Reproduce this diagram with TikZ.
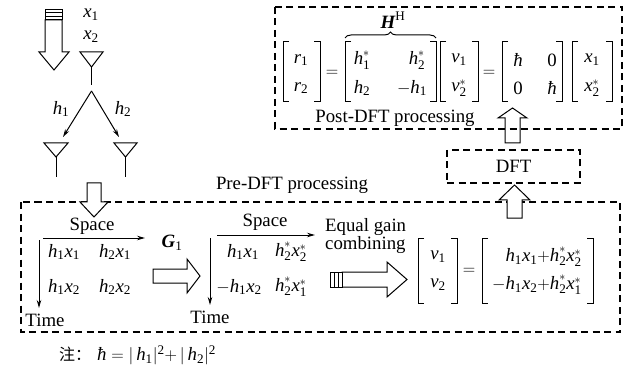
\documentclass[tikz,border=0pt]{standalone}
\usepackage{amsmath}
\usepackage{fontspec}
\setmainfont{Liberation Serif}
\newfontfamily\cjk{Noto Sans CJK SC}
\usetikzlibrary{arrows.meta,decorations.pathreplacing}
\newcommand\V[1]{\text{\itshape #1}}
\newcommand\D[1]{\text{\upshape #1}}
\newcommand\Mh{\V{h}}
\newcommand\Mx{\V{x}}
\newcommand\Mv{\V{v}}
\newcommand\Mr{\V{r}}
\newcommand\Mhb{\V{ħ}}
\newcommand\brkpair[4]{%
  \draw[brk] ({#1+6},#3) -- (#1,#3) -- (#1,#4) -- ({#1+6},#4);
  \draw[brk] ({#2-6},#3) -- (#2,#3) -- (#2,#4) -- ({#2-6},#4);}
\tikzset{
  dbox/.style={draw, dash pattern=on 7pt off 4.5pt, line width=1.1pt},
  thinline/.style={line width=1pt},
  ax/.style={line width=1pt, -{Stealth[length=8pt,width=4.5pt]}},
  hollow/.style={draw, line width=1pt, fill=white},
  brk/.style={line width=1pt},
}
\begin{document}
\begin{tikzpicture}[x=1pt,y=-1pt, font=\fontsize{18.8}{22}\selectfont, every node/.style={inner sep=0pt}]
\useasboundingbox (0,0) rectangle (628,371);

% ---------- top-left: source and antennas ----------
\draw[hollow] (45,20) -- (45,52) -- (39,52) -- (54,70) -- (69,52) -- (62,52) -- (62,20) -- cycle;
\draw[hollow] (45,9.5) rectangle (62,20);
\draw[thinline] (45,13) -- (62,13) (45,16.5) -- (62,16.5);
\node (x1) at (91,15) {$\Mx_{\D1}$};
\node (x2) at (91,37) {$\Mx_{\D2}$};
\draw[thinline] (80,52) -- (103,52) -- (91.5,67) -- cycle;
\draw[thinline] (91.5,67) -- (91.5,85);
\coordinate (split) at (91.5,91);
\coordinate (rxl) at (63,137);
\coordinate (rxr) at (119,137);
\draw[ax] (split) -- (rxl);
\draw[ax] (split) -- (rxr);
\node (h1) at (61,109) {$\Mh_{\D1}$};
\node (h2) at (123,109) {$\Mh_{\D2}$};
\draw[thinline] (44,143) -- (68,143) -- (56,157) -- cycle;
\draw[thinline] (56,157) -- (56,177);
\draw[thinline] (114,143) -- (137,143) -- (125.5,157) -- cycle;
\draw[thinline] (125.5,157) -- (125.5,177);

% ---------- Pre-DFT box ----------
\node (pretitle) at (292,185) {Pre-DFT processing};
\draw[dbox] (21,202) rectangle (620,332);
\draw[hollow] (87,183) -- (87,202) -- (80,202) -- (94,217) -- (108,202) -- (101,202) -- (101,183) -- cycle;

% first space-time matrix
\coordinate (s1a) at (43,238); \coordinate (s1b) at (145,238);
\coordinate (t1a) at (39,240); \coordinate (t1b) at (39,308);
\draw[ax] (s1a) -- (s1b);
\draw[ax] (t1a) -- (t1b);
\node (space1) at (92,226) {Space};
\node (time1) at (45,320) {Time};
\node (a11) at (64,252) {$\Mh_{\D1}\Mx_{\D1}$};
\node (a12) at (115,252) {$\Mh_{\D2}\Mx_{\D1}$};
\node (a21) at (64,287) {$\Mh_{\D1}\Mx_{\D2}$};
\node (a22) at (115,287) {$\Mh_{\D2}\Mx_{\D2}$};

% G1 arrow
\node (g1) at (172,243) {$\text{\bfseries\itshape G}_{\D1}$};
\draw[hollow] (153,269) -- (187,269) -- (187,259) -- (200,276) -- (187,293) -- (187,283) -- (153,283) -- cycle;

% second space-time matrix
\coordinate (s2a) at (217,235); \coordinate (s2b) at (315,235);
\coordinate (t2a) at (210,238); \coordinate (t2b) at (210,305);
\draw[ax] (s2a) -- (s2b);
\draw[ax] (t2a) -- (t2b);
\node (space2) at (265,222) {Space};
\node (time2) at (210,317) {Time};
\node (b11) at (243,252) {$\Mh_{\D1}\Mx_{\D1}$};
\node (b12) at (291,252) {$\Mh_{\D2}^*\Mx_{\D2}^*$};
\node (b21) at (239,287) {$-\Mh_{\D1}\Mx_{\D2}$};
\node (b22) at (291,287) {$\Mh_{\D2}^*\Mx_{\D1}^*$};

% equal gain combining
\node[align=left, anchor=west, font=\fontsize{18.8}{18}\selectfont] (egc) at (325,236) {Equal gain\\combining};
\draw[hollow] (342,272) -- (387,272) -- (387,262) -- (407,279.5) -- (387,297) -- (387,287) -- (342,287) -- cycle;
\draw[hollow] (330,272) rectangle (342,287);
\draw[thinline] (334,272) -- (334,287) (338,272) -- (338,287);

% v result
\brkpair{418}{457}{238}{303}
\node (v1) at (438,257) {$\Mv_{\D1}$};
\node (v2) at (438,285) {$\Mv_{\D2}$};
\node (eq3) at (469,271) {$=$};
\brkpair{482}{593}{238}{303}
\node[anchor=east] (c1) at (582,257) {$\Mh_{\D1}\Mx_{\D1}{+}\Mh_{\D2}^*\Mx_{\D2}^*$};
\node[anchor=east] (c2) at (582,285) {$-\Mh_{\D1}\Mx_{\D2}{+}\Mh_{\D2}^*\Mx_{\D1}^*$};

% ---------- DFT ----------
\draw[hollow] (507,218) -- (507,200) -- (499,200) -- (514.5,185) -- (530,200) -- (522,200) -- (522,218) -- cycle;
\node[dbox, minimum width=133pt, minimum height=33pt] (dft) at (513.5,166.5) {DFT};
\draw[hollow] (505,143) -- (505,118) -- (498,118) -- (512.5,108) -- (527,118) -- (520,118) -- (520,143) -- cycle;

% ---------- Post-DFT box ----------
\draw[dbox] (275,7) rectangle (622,129);
\node (posttitle) at (395,118) {Post-DFT processing};
\brkpair{283}{320}{42}{102}
\node (r1) at (301,60) {$\Mr_{\D1}$};
\node (r2) at (301,88) {$\Mr_{\D2}$};
\node (eq1) at (332,73) {$=$};
\brkpair{345}{436}{42}{102}
\node (hh11) at (362,60) {$\Mh_{\D1}^*$};
\node (hh12) at (417,60) {$\Mh_{\D2}^*$};
\node (hh21) at (362,88) {$\Mh_{\D2}$};
\node (hh22) at (412,88) {$-\Mh_{\D1}$};
\draw[thinline, decorate, decoration={brace, amplitude=6pt}] (345,38) -- (436,38);
\node (HH) at (393,20) {$\text{\bfseries\itshape H}^{\D{H}}$};
\brkpair{440}{478}{42}{102}
\node (vv1) at (459,60) {$\Mv_{\D1}$};
\node (vv2) at (459,88) {$\Mv_{\D2}^*$};
\node (eq2) at (489,73) {$=$};
\brkpair{502}{562}{42}{102}
\node (d11) at (518,60) {$\Mhb$};
\node (d12) at (552,60) {\D0};
\node (d21) at (518,88) {\D0};
\node (d22) at (552,88) {$\Mhb$};
\brkpair{572}{612}{42}{102}
\node (xx1) at (592,60) {$\Mx_{\D1}$};
\node (xx2) at (592,88) {$\Mx_{\D2}^*$};

% ---------- note ----------
\node[anchor=west] (note) at (59,355) {{\cjk\fontsize{16}{18}\selectfont 注：}\hspace{6pt}$\Mhb=|\,\Mh_{\D1}|^{\D2}{+}\,|\,\Mh_{\D2}|^{\D2}$};
\end{tikzpicture}
\end{document}
